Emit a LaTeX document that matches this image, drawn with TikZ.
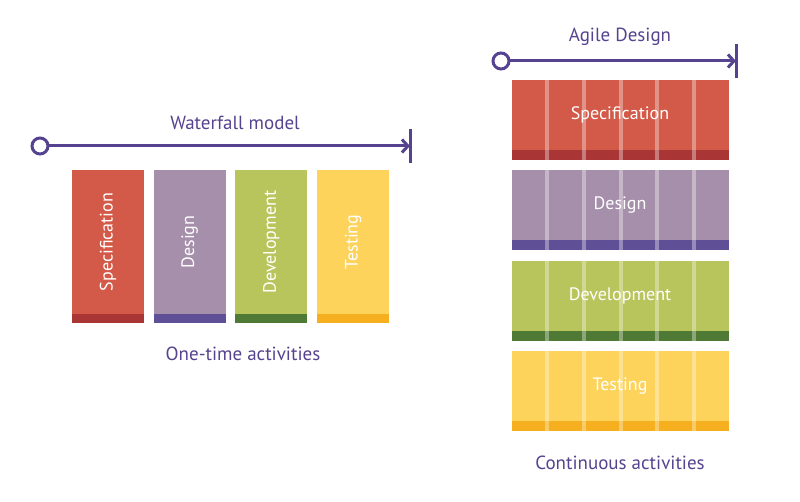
\documentclass[tikz,border=0pt]{standalone}
\usepackage{fontspec}
\setmainfont{PT Sans}
\usetikzlibrary{arrows.meta}

\definecolor{lineviolet}{HTML}{56438F}
\definecolor{specred}{HTML}{D35A48}
\definecolor{specdark}{HTML}{A93534}
\definecolor{desviolet}{HTML}{A68FAB}
\definecolor{desdark}{HTML}{5E4F97}
\definecolor{devgreen}{HTML}{B8C55C}
\definecolor{devdark}{HTML}{4F7A35}
\definecolor{testyellow}{HTML}{FDD35B}
\definecolor{testdark}{HTML}{F6AF1E}

\tikzset{
  timeline/.style={draw=lineviolet, line width=3pt, -{Straight Barb[length=6pt,width=13pt,line width=3pt]}},
  endbar/.style={draw=lineviolet, line width=3pt},
  startdot/.style={circle, draw=lineviolet, line width=3pt, fill=white, minimum size=16pt, inner sep=0pt},
  heading/.style={text=lineviolet, font=\fontsize{19}{21}\selectfont},
  boxlabel/.style={text=white, font=\fontsize{18}{20}\selectfont},
}

\begin{document}
\begin{tikzpicture}[x=1pt,y=-1pt]
\useasboundingbox (0,0) rectangle (800,502);

% waterfall timeline
\node[heading] (wtitle) at (235,123) {Waterfall model};
\coordinate (wend) at (410,146);
\draw[timeline] (40,146) -- (wend);
\node[startdot] (wstart) at (40,146) {};
\draw[endbar] ([yshift=17pt]wend) -- ([yshift=-17pt]wend);

% waterfall boxes
\foreach \name/\col/\dark [count=\i] in {Specification/specred/specdark, Design/desviolet/desdark, Development/devgreen/devdark, Testing/testyellow/testdark}{
	\fill[\col] (72+81.7*\i-81.7, 170) rectangle ++(72, 144);
	\fill[\dark] (72+81.7*\i-81.7, 314) rectangle ++(72, 9);
	\node[boxlabel, rotate=90] (w\i) at (108+81.7*\i-81.7, 242) {\name};
};
\node[heading] (wnote) at (243,354) {One-time activities};

% agile timeline
\node[heading] (atitle) at (620,37) {Agile Design};
\coordinate (aend) at (736,61);
\draw[timeline] (501,61) -- (aend);
\node[startdot] (astart) at (501,61) {};
\draw[endbar] ([yshift=17pt]aend) -- ([yshift=-17pt]aend);

% agile rows
\foreach \name/\col/\dark [count=\i] in {Specification/specred/specdark, Design/desviolet/desdark, Development/devgreen/devdark, Testing/testyellow/testdark}{
	\fill[\col] (512, 80+90.4*\i-90.4) rectangle ++(217, 70);
	\fill[\dark] (512, 150+90.4*\i-90.4) rectangle ++(217, 10);
	\foreach \k in {0,1,...,4}{
		\fill[white, opacity=0.35] (545+36.8*\k, 80+90.4*\i-90.4) rectangle ++(4, 80);
	};
	\node[boxlabel] (a\i) at (620, 115+90.4*\i-90.4) {\name};
};
\node[heading] (anote) at (620,463) {Continuous activities};

\end{tikzpicture}
\end{document}
